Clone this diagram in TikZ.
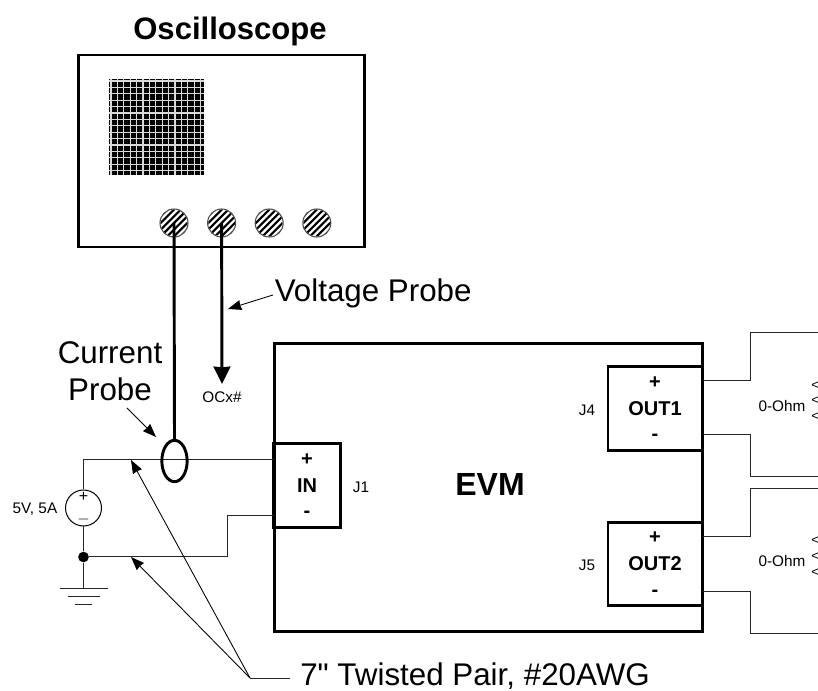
\documentclass[tikz,border=0pt]{standalone}
\usepackage{fontspec}
\setmainfont{Liberation Sans}
\newfontfamily\rawfont{Liberation Sans}
\usetikzlibrary{arrows.meta, positioning, shapes.geometric}
\newcommand{\fsize}[2]{\fontsize{#1}{#2}\selectfont}

\begin{document}
\begin{tikzpicture}[x=0.75pt,y=-0.75pt,node distance=35.7pt,on grid]
    \tikzstyle{panel}=[shape=rectangle,draw,line width=2.2pt,inner sep=0pt]
    \tikzstyle{port}=[panel,minimum width=70.5pt,minimum height=62.5pt,align=center,font=\fsize{15}{19}\bfseries]
    \tikzstyle{knob}=[shape=circle,draw=black!70,thick,minimum size=21pt,inner sep=0pt]
    \tikzstyle{wire}=[draw,line width=0.75pt,black!85]
    \tikzstyle{pointer}=[draw,line width=0.65pt,-{Stealth[length=10pt,width=7.5pt,inset=0.5pt]}]
    \tikzstyle{probe}=[draw,line width=2.2pt]
    \tikzstyle{small}=[font=\fsize{11.5}{13},inner sep=0pt]
    \tikzstyle{big}=[font=\fsize{23.5}{28},inner sep=0pt]

    \useasboundingbox (0,0) rectangle (818,691);

    \node[font=\fsize{23.3}{28}\bfseries,inner sep=0pt] (title) at (230,31) {Oscilloscope};
    \node[panel,minimum width=214pt,minimum height=144pt] (scope) at (221.5,151) {};

    % screen
    \node[fill=black,minimum size=71.5pt,inner sep=0pt] (screen) at (156.5,127) {};
    \foreach \i in {0,...,14}
      \draw[white!85!black,line width=0.8pt] (111+\i*6.4,79) -- (111+\i*6.4,175)
        (109,81+\i*6.4) -- (204,81+\i*6.4);

    % knobs
    \node[knob] (K1) at (174,223) {};
    \node[knob,right of=K1] (K2) {};
    \node[knob,right of=K2] (K3) {};
    \node[knob,right of=K3] (K4) {};
    \foreach \k in {K1,K2,K3,K4} {
      \begin{scope}
        \clip (\k) circle (10pt);
        \foreach \d in {-25,-20,...,25}
          \draw[line width=1.6pt] ([xshift=\d pt-14pt,yshift=-14pt]\k.center) -- ([xshift=\d pt+14pt,yshift=14pt]\k.center);
      \end{scope}
    }

    % main board
    \node[panel,minimum width=321.5pt,minimum height=216.5pt] (EVM) at (488.5,487.5) {};
    \node[font=\fsize{24}{28}\bfseries,inner sep=0pt] (name) at (490,484) {EVM};
    \node[port,minimum width=50pt] (IN) at (307,485.5) {+\\[1.5pt]IN\\[0pt]-};
    \node[port] (OUTa) at (655,408.5) {+\\[1.5pt]OUT1\\[0pt]-};
    \node[port] (OUTb) at (655,564) {+\\[1.5pt]OUT2\\[0pt]-};
    \node[small] (J1) at (361,487) {J1};
    \node[small] (J4) at (587,410) {J4};
    \node[small] (J5) at (587,565) {J5};

    % source and ground
    \node[shape=circle,draw,line width=0.75pt,minimum size=27pt,inner sep=0pt] (src) at (83.5,508) {};
    \node[font=\fsize{12}{14},inner sep=0pt] (plus) at (83.5,497) {+};
    \node[font=\fsize{12}{14},inner sep=0pt] (minus) at (83.5,520) {$-$};
    \node[small,anchor=east] (srclabel) at (57.5,509) {5V, 5A};
    \node[shape=circle,fill=black,minimum size=8pt,inner sep=0pt] (dot) at (83.5,557) {};
    \coordinate (gnd) at (83.5,588);
    \coordinate (INp) at (274,460);
    \coordinate (INm) at (274,516);
    \coordinate (jog) at (227,557);
    \path[wire] (src.north) |- (INp);
    \path[wire] (src.south) -- (dot) -- (gnd);
    \path[wire] (dot) -- (jog) |- (INm);
    \draw[wire] (60,588) -- (108,588) (68,596) -- (100,596) (75,604) -- (92,604);

    % probes
    \node[shape=ellipse,draw,line width=2.2pt,minimum width=19pt,minimum height=31pt,inner sep=0pt] (clamp) at (174.5,461) {};
    \draw[probe] (K1.center) -- (clamp.north);
    \coordinate (OCtip) at (222,384);
    \draw[probe,-{Stealth[length=13pt,width=12.5pt,inset=0.5pt]}] (K2.center) -- (OCtip);
    \node[small] (OC) at (222,397) {OCx\#};
    \node[big,anchor=west] (VP) at (274.5,293) {Voltage Probe};
    \node[big,align=center] (CP) at (110,371) {Current\\Probe};
    \coordinate (VPa) at (273,295);
    \coordinate (VPb) at (228,309);
    \coordinate (CPa) at (127,408);
    \coordinate (CPb) at (156,437);
    \path[pointer] (VPa) -- (VPb);
    \path[pointer] (CPa) -- (CPb);

    % outputs
    \coordinate (aP) at (703,381);
    \coordinate (aM) at (703,435);
    \coordinate (bP) at (703,537);
    \coordinate (bM) at (703,591);
    \path[wire] (aP) -- (750,381) |- (818,333);
    \path[wire] (aM) -- (750,435) |- (818,477);
    \path[wire] (bP) -- (750,537) |- (818,489);
    \path[wire] (bM) -- (750,591) |- (818,633);
    \node[small] (Ra) at (782,406) {0-Ohm};
    \node[small] (Rb) at (782,561) {0-Ohm};
    \foreach \y in {386,401,417,541,557,573}
      \node[font=\fsize{10}{12},inner sep=0pt,anchor=west] at (811,\y) {<};

    % twisted pair
    \node[big,anchor=west,font=\fsize{23.5}{28}\rawfont] (TP) at (300,676.5) {7" Twisted Pair, \#20AWG};
    \coordinate (TPf) at (250,678);
    \coordinate (wa) at (131,460);
    \coordinate (wb) at (131,557);
    \path[wire] (TP.west) ++(-10,1.5) -- (TPf);
    \path[pointer] (TPf) -- (wa);
    \path[pointer] (TPf) -- (wb);
\end{tikzpicture}
\end{document}
